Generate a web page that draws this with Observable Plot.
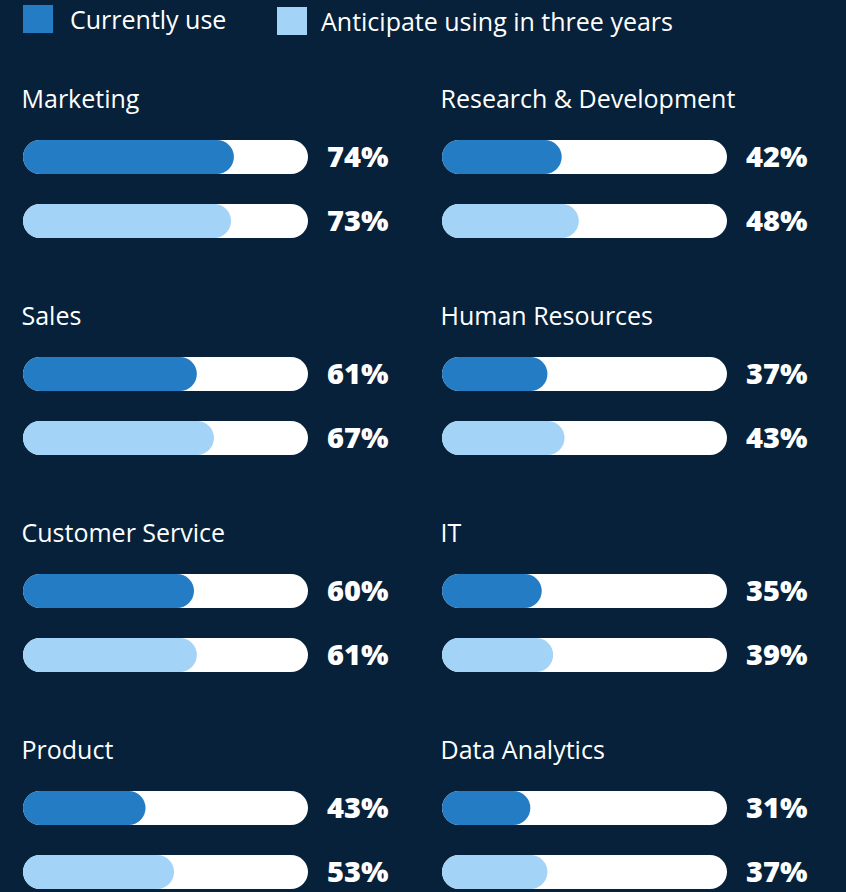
<!DOCTYPE html>
<html>
<head>
<meta charset="utf-8">
<script src="https://cdn.jsdelivr.net/npm/d3@7"></script>
<script src="https://cdn.jsdelivr.net/npm/@observablehq/plot@0.6"></script>
<style>
  html, body { margin: 0; padding: 0; background: #062139; }
  body { width: 846px; height: 892px; overflow: hidden; font-family: "Open Sans", Lato, sans-serif; }
  #legend { position: relative; height: 40px; color: #ffffff; font-size: 25px; }
  .sw { position: absolute; width: 30px; height: 28px; }
  .lt { position: absolute; top: 2px; line-height: 30px; }
  #chart svg { display: block; }
</style>
</head>
<body>
<div id="legend"></div>
<div id="chart"></div>
<script>
const seriesNames = ["Currently use", "Anticipate using in three years"];
const seriesColors = ["#237cc4", "#a3d3f7"];
const categories = ["Marketing", "Sales", "Customer Service", "Product",
                    "Research & Development", "Human Resources", "IT", "Data Analytics"];
const columns = [0, 0, 0, 0, 1, 1, 1, 1];
const rows = [0, 1, 2, 3, 0, 1, 2, 3];
const currentValues = [74, 61, 60, 43, 42, 37, 35, 31];
const anticipatedValues = [73, 67, 61, 53, 48, 43, 39, 37];

const data = [];
categories.forEach((c, i) => {
  data.push({category: c, col: columns[i], row: rows[i], series: seriesNames[0], value: currentValues[i]});
  data.push({category: c, col: columns[i], row: rows[i], series: seriesNames[1], value: anticipatedValues[i]});
});

// Legend
const legend = document.getElementById("legend");
const legendPos = [{sq: 23, tx: 70, top: 5}, {sq: 277, tx: 321, top: 7}];
seriesNames.forEach((s, i) => {
  const sw = document.createElement("div");
  sw.className = "sw";
  sw.style.left = legendPos[i].sq + "px";
  sw.style.top = legendPos[i].top + "px";
  sw.style.background = seriesColors[i];
  const t = document.createElement("div");
  t.className = "lt";
  t.style.left = legendPos[i].tx + "px";
  t.style.top = (legendPos[i].top - 1) + "px";
  t.textContent = s;
  legend.appendChild(sw);
  legend.appendChild(t);
});

const chart = Plot.plot({
  width: 846,
  height: 852,
  margin: 0,
  style: {background: "#062139", color: "#ffffff", overflow: "visible"},
  facet: {data: data, x: "col", y: "row"},
  fx: {domain: [0, 1], range: [22, 728], paddingInner: 0.319, paddingOuter: 0, axis: null},
  fy: {domain: [0, 1, 2, 3], range: [38, 851], paddingInner: 0.265, paddingOuter: 0, axis: null},
  x: {domain: [0, 100], axis: null},
  y: {domain: seriesNames, range: [61, 159], paddingInner: 0.469, paddingOuter: 0, axis: null},
  color: {domain: seriesNames, range: seriesColors},
  marks: [
    Plot.text(data, {
      filter: d => d.series === seriesNames[0],
      text: "category",
      frameAnchor: "top-left",
      textAnchor: "start",
      lineAnchor: "middle",
      dx: -2,
      dy: 20,
      fill: "#ffffff",
      fontSize: 25,
      fontFamily: "'Open Sans', Lato, sans-serif"
    }),
    Plot.barX(data, {x1: 0, x2: 100, y: "series", fill: "#ffffff", rx: 17}),
    Plot.barX(data, {x1: 0, x2: "value", y: "series", fill: "series", rx: 17}),
    Plot.text(data, {
      x: 100,
      y: "series",
      text: d => d.value + "%",
      dx: 80,
      textAnchor: "end",
      fill: "#ffffff",
      fontSize: 29,
      fontWeight: 800,
      fontFamily: "'Open Sans', Lato, sans-serif"
    })
  ]
});
document.getElementById("chart").appendChild(chart);
</script>
</body>
</html>
